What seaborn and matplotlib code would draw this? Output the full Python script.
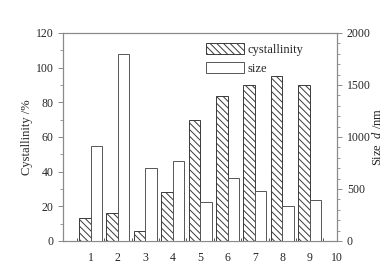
import numpy as np
import pandas as pd
import matplotlib
matplotlib.use("Agg")
import matplotlib.pyplot as plt
import seaborn as sns
from matplotlib.ticker import MultipleLocator, FixedLocator

# values
sample = [1, 2, 3, 4, 5, 6, 7, 8, 9]
crystallinity = [13.5, 16.3, 5.8, 28.3, 69.8, 83.7, 90.0, 95.0, 90.0]   # %
size_nm = [910, 1795, 700, 765, 378, 603, 481, 340, 397]               # nm
xtick_labels = ["1", "2", "3", "4", "5", "6", "7", "8", "9", "10"]

sns.set_style("ticks")
plt.rcParams["font.family"] = ["Liberation Serif", "DejaVu Serif"]
plt.rcParams["mathtext.fontset"] = "custom"
plt.rcParams["mathtext.it"] = "Liberation Serif:italic"
plt.rcParams["hatch.linewidth"] = 0.7
plt.rcParams["font.size"] = 8

edge = "#3a3a3a"
spine_col = "#8a8a8a"
bw = 0.42

df = pd.DataFrame({"sample": sample, "cryst": crystallinity, "size": size_nm})
df["x_c"] = df["sample"] - bw / 2
df["x_s"] = df["sample"] + bw / 2

fig = plt.figure(figsize=(3.92, 2.68), dpi=100)
ax = fig.add_axes([0.161, 0.101, 0.699, 0.776])
ax2 = ax.twinx()

sns.barplot(data=df, x="x_c", y="cryst", native_scale=True, width=bw,
            color="white", edgecolor=edge, linewidth=0.7, hatch="\\\\\\\\\\",
            saturation=1, ax=ax, label="cystallinity")
sns.barplot(data=df, x="x_s", y="size", native_scale=True, width=bw,
            color="white", edgecolor="#555555", linewidth=0.7,
            saturation=1, ax=ax2, label="size")

ax.set_xlim(0, 10)
ax.set_ylim(0, 120)
ax2.set_ylim(0, 2000)

ax.xaxis.set_major_locator(FixedLocator(range(1, 11)))
ax.set_xticklabels(xtick_labels)
ax.xaxis.set_minor_locator(FixedLocator(np.arange(0.5, 10, 1.0)))
ax.tick_params(axis="x", which="major", length=0, pad=8)
ax.tick_params(axis="x", which="minor", direction="in", length=2, width=0.6, color=edge)

ax.yaxis.set_major_locator(MultipleLocator(20))
ax.yaxis.set_minor_locator(MultipleLocator(10))
ax.tick_params(axis="y", which="major", length=3.5, width=0.7, color=spine_col, labelsize=8.5)
ax.tick_params(axis="y", which="minor", length=2, width=0.6, color=spine_col)
ax.tick_params(axis="x", labelsize=8.5)

ax2.yaxis.set_major_locator(MultipleLocator(500))
ax2.yaxis.set_minor_locator(MultipleLocator(100))
ax2.tick_params(axis="y", which="major", length=3.5, width=0.7, color=spine_col, labelsize=8.5)
ax2.tick_params(axis="y", which="minor", length=2, width=0.6, color=spine_col)

for a in (ax, ax2):
    for s in a.spines.values():
        s.set_visible(True)
        s.set_color(spine_col)
        s.set_linewidth(0.8)
    a.set_xlabel("")

ax.set_ylabel("Cystallinity /%", fontsize=9, labelpad=2)
ax2.set_ylabel("Size  $d$ /nm", fontsize=9, labelpad=0)

h1, l1 = ax.get_legend_handles_labels()
h2, l2 = ax2.get_legend_handles_labels()
if ax.get_legend() is not None:
    ax.get_legend().remove()
ax2.legend(h1 + h2, l1 + l2, loc="upper left", bbox_to_anchor=(0.505, 0.975),
           frameon=False, fontsize=9, handlelength=3.0, handleheight=1.0,
           handletextpad=0.3, labelspacing=0.5, borderaxespad=0)

fig.savefig("out.png", dpi=100)
